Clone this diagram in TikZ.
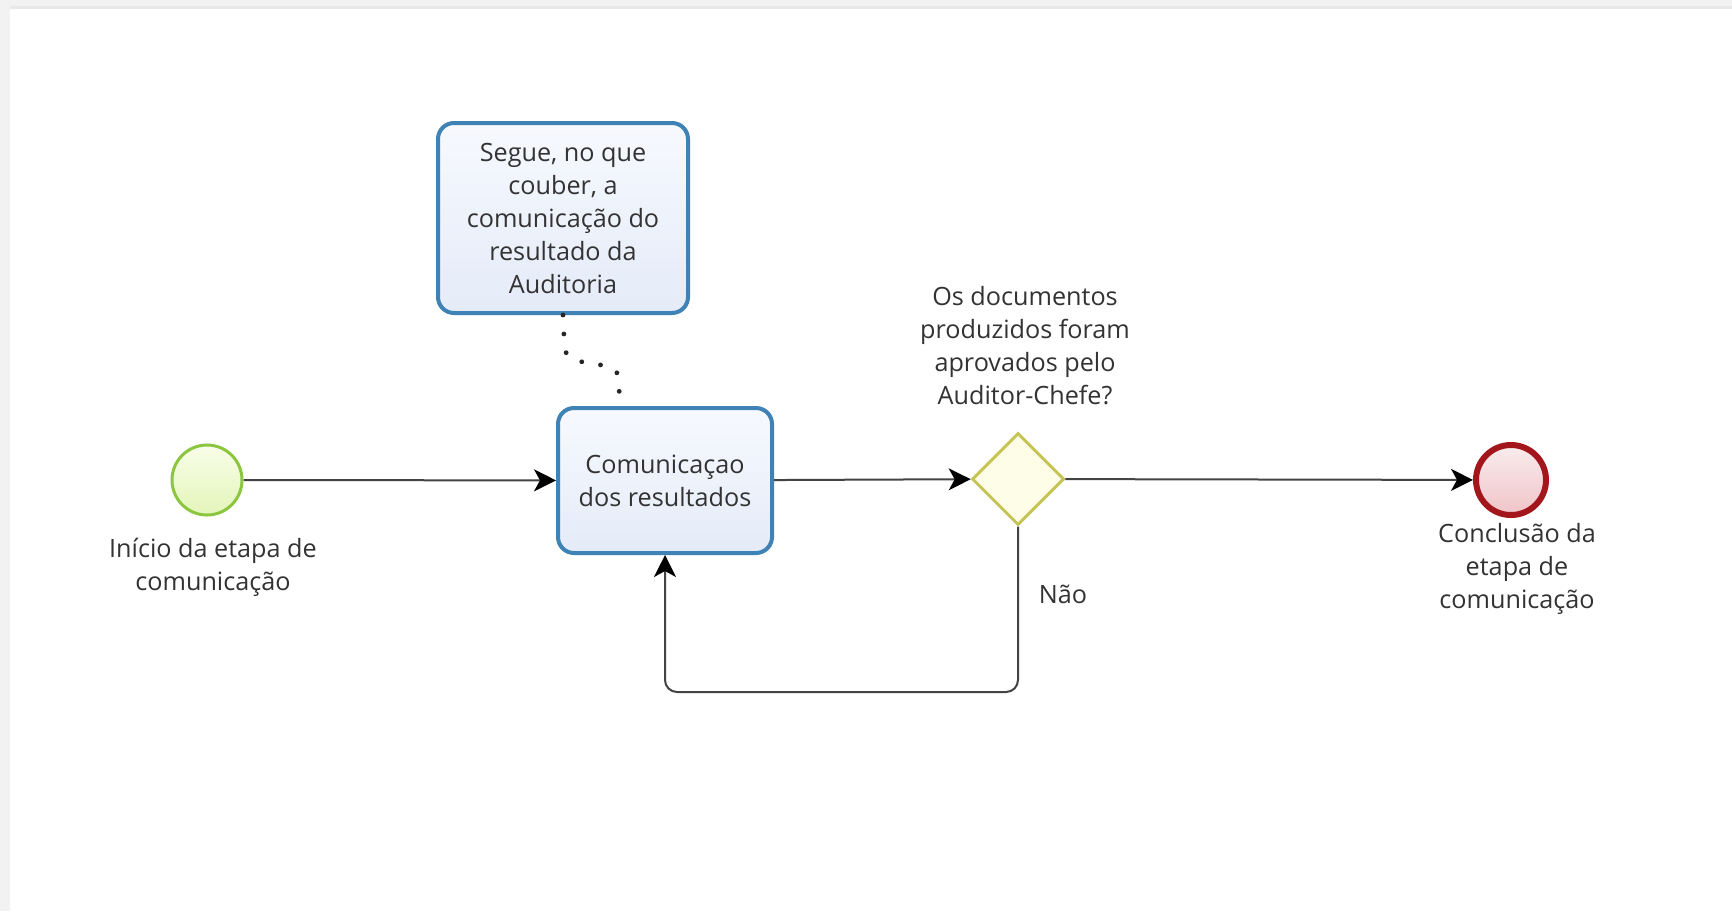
\documentclass[tikz,border=0pt]{standalone}
\usepackage{fontspec}
\setmainfont{Open Sans}
\usetikzlibrary{shapes.geometric,arrows.meta,calc}
\definecolor{txt}{HTML}{333333}
\definecolor{flowc}{HTML}{444444}
\definecolor{startline}{HTML}{8CC63F}
\definecolor{taskline}{HTML}{3F82B5}
\definecolor{gwline}{HTML}{C6C455}
\definecolor{endline}{HTML}{A3161C}
\tikzset{
  every node/.style={font=\fontsize{12.6}{16.5}\selectfont, text=txt},
  lbl/.style={align=center, inner sep=0pt},
  startev/.style={circle, minimum size=35pt, inner sep=0pt, line width=1.5pt, draw=startline,
    top color={rgb,255:red,248;green,253;blue,232}, bottom color={rgb,255:red,228;green,245;blue,186}},
  endev/.style={circle, minimum size=35pt, inner sep=0pt, line width=3pt, draw=endline,
    top color={rgb,255:red,250;green,236;blue,237}, bottom color={rgb,255:red,240;green,196;blue,200}},
  taskbox/.style={rectangle, rounded corners=8pt, line width=2pt, draw=taskline,
    top color={rgb,255:red,247;green,249;blue,254}, bottom color={rgb,255:red,228;green,235;blue,248},
    align=center, inner sep=0pt},
  gateway/.style={diamond, aspect=1, minimum size=46pt, inner sep=0pt, line width=1.5pt,
    draw=gwline, fill={rgb,255:red,254;green,254;blue,232}},
  flow/.style={draw=flowc, line width=1pt, -{Stealth[length=11pt,width=11pt,inset=3pt,color=black]}},
  loopflow/.style={flow, rounded corners=6pt},
  assoc/.style={draw=black!85, line width=2.4pt, line cap=round, dash pattern=on 0pt off 9.5pt, rounded corners=6pt},
}
\begin{document}
\begin{tikzpicture}[x=0.5pt,y=-0.5pt]
  % page background and frame
  \useasboundingbox (0,0) rectangle (1732,911);
  \fill[black!5] (0,0) rectangle (1732,911);
  \fill[black!9] (10,6) rectangle (1732,9);
  \fill[white] (10,9) rectangle (1732,911);

  % elements
  \node[startev] (start) at (207,480) {};
  \node[taskbox, minimum width=107pt, minimum height=72.5pt] (task) at (665,480.5)
    {Comunicaçao\\dos resultados};
  \node[taskbox, minimum width=125pt, minimum height=95pt] (note) at (563,218)
    {Segue, no que\\couber, a\\comunicação do\\resultado da\\Auditoria};
  \node[gateway] (gw) at (1018,479) {};
  \node[endev] (end) at (1511,480) {};

  % labels
  \node[lbl, anchor=north] (startlbl) at (213,538) {Início da etapa de\\comunicação};
  \node[lbl, anchor=south] (gwlbl) at (1025,405) {Os documentos\\produzidos foram\\aprovados pelo\\Auditor-Chefe?};
  \node[lbl] (nao) at (1063,594) {Não};
  \node[lbl, anchor=north] (endlbl) at (1517,523) {Conclusão da\\etapa de\\comunicação};

  % connectors
  \coordinate (tasktop) at ($(task.north west)!0.29!(task.north east)$);
  \coordinate (loopy) at (0,692);
  \draw[flow] (start) -- (task);
  \draw[flow] (task) -- (gw);
  \draw[flow] (gw) -- (end);
  \draw[loopflow] (gw.south) -- (gw.south |- loopy) -| (task.south);
  \draw[assoc] (note.south) -- ++(2,44) -- ($(tasktop)+(0,-38)$) -- (tasktop);
\end{tikzpicture}
\end{document}
